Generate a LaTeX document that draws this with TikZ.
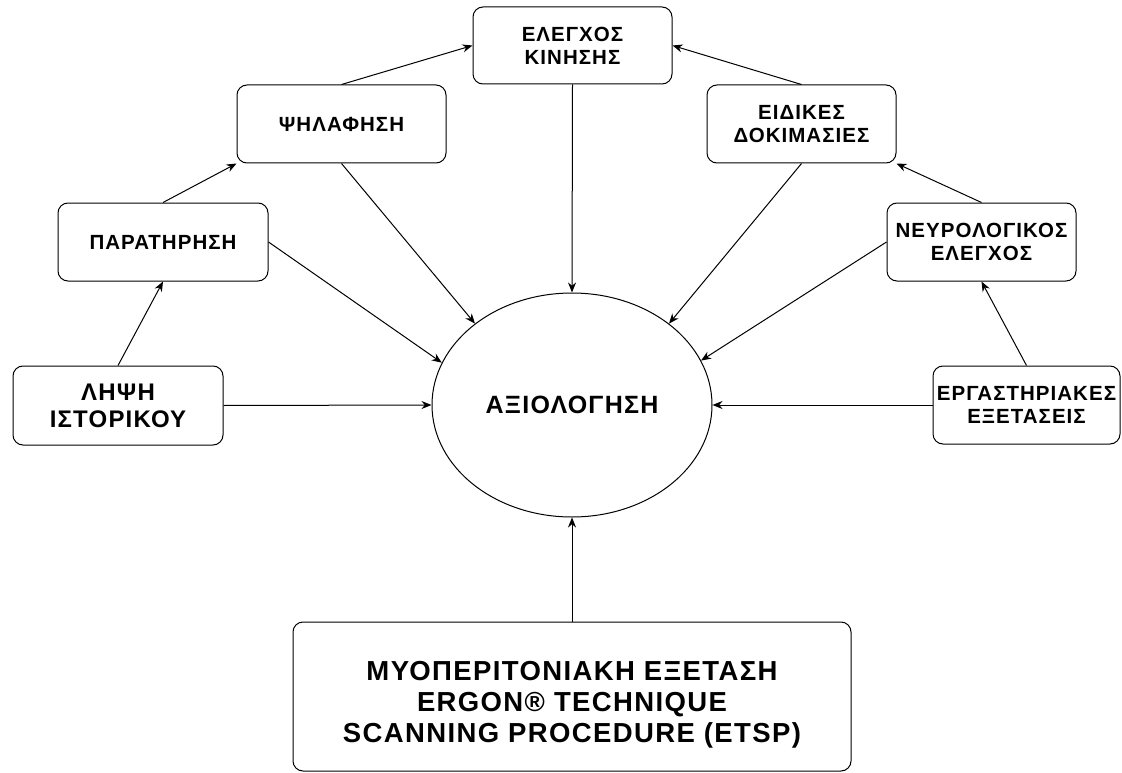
\documentclass[tikz,border=0pt]{standalone}
\usepackage{fontspec}
\setmainfont{Liberation Sans}[LetterSpace=5]
\usetikzlibrary{arrows.meta,shapes.geometric}

\begin{document}
\begin{tikzpicture}[x=1pt,y=-1pt,
  box/.style={draw,rounded corners=10pt,align=center,inner sep=0pt,line width=1pt,
    font=\bfseries\fontsize{20.5}{23}\selectfont},
  link/.style={line width=1pt,-{Stealth[length=10pt,width=8pt]}}]
 \useasboundingbox (0,0) rectangle (1122,773);
 \node[box,minimum width=199,minimum height=77] (kin) at (572.5,45.5) {ΕΛΕΓΧΟΣ\\ΚΙΝΗΣΗΣ};
 \node[box,minimum width=209,minimum height=78] (psi) at (341.5,124) {ΨΗΛΑΦΗΣΗ};
 \node[box,minimum width=189,minimum height=78] (eid) at (801.5,124) {ΕΙΔΙΚΕΣ\\ΔΟΚΙΜΑΣΙΕΣ};
 \node[box,minimum width=210,minimum height=78] (par) at (163,242) {ΠΑΡΑΤΗΡΗΣΗ};
 \node[box,minimum width=189,minimum height=78] (neu) at (981.5,242) {ΝΕΥΡΟΛΟΓΙΚΟΣ\\ΕΛΕΓΧΟΣ};
 \node[box,minimum width=210,minimum height=79,font=\bfseries\fontsize{24}{27}\selectfont]
   (lip) at (118,405.5) {ΛΗΨΗ\\ΙΣΤΟΡΙΚΟΥ};
 \node[box,minimum width=187,minimum height=78] (erg) at (1026.5,405) {ΕΡΓΑΣΤΗΡΙΑΚΕΣ\\ΕΞΕΤΑΣΕΙΣ};
 \node[draw,ellipse,line width=1pt,inner sep=0pt,minimum width=280,minimum height=224,
   font=\bfseries\fontsize{25}{28}\selectfont] (eval) at (572,405) {ΑΞΙΟΛΟΓΗΣΗ};
 \node[box,minimum width=558,minimum height=149] (myo) at (572,696.5) {};
 \node[align=center,font=\bfseries\fontsize{27.5}{31}\selectfont] (myotxt) at (572,705)
   {ΜΥΟΠΕΡΙΤΟΝΙΑΚΗ ΕΞΕΤΑΣΗ\\ERGON® TECHNIQUE\\SCANNING PROCEDURE (ETSP)};
 \draw[link] (lip.north) -- (par.south);
 \draw[link] (par.north) -- (psi.south west);
 \draw[link] (psi.north) -- (kin.west);
 \draw[link] (eid.north) -- (kin.east);
 \draw[link] (neu.north) -- (eid.south east);
 \draw[link] (erg.north) -- (neu.south);
 \draw[link] (lip.east) -- (eval.west);
 \draw[link] (erg.west) -- (eval.east);
 \draw[link] (kin.south) -- (eval.north);
 \draw[link] (myo.north) -- (eval.south);
 \draw[link] (par.east) -- (eval.162);
 \draw[link] (psi.south) -- (eval.140);
 \draw[link] (eid.south) -- (eval.40);
 \draw[link] (neu.west) -- (eval.19);
\end{tikzpicture}
\end{document}
